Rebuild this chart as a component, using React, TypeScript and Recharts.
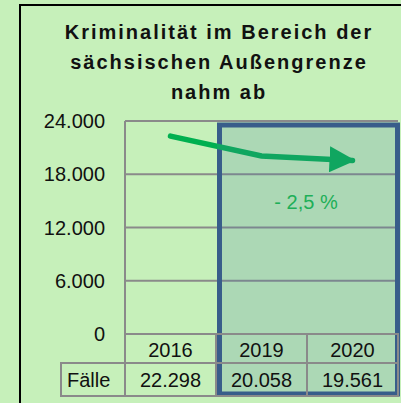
import React from "react";
import {
  ComposedChart,
  Line,
  XAxis,
  YAxis,
  CartesianGrid,
  ReferenceArea,
} from "recharts";

const years = ["2016", "2019", "2020"];
const faelle = [22298, 20058, 19561];
const yTicks = [0, 6000, 12000, 18000, 24000];
const rowLabel = "Fälle";
const changeLabel = "- 2,5 %";
const titleLines = ["Kriminalität im Bereich der", "sächsischen Außengrenze", "nahm ab"];

const data = years.map((year, i) => ({ idx: i, year, faelle: faelle[i] }));

const W = 401;
const H = 403;
const MARGIN = { top: 121, right: 3, bottom: 7, left: 0 };
const Y_W = 125;
const X_H = 62;
const BAND = (W - MARGIN.left - MARGIN.right - Y_W) / years.length;
const ROW1 = 29;
const ROW2 = 33;
const LABEL_W = 64;

const FONT = '"Liberation Sans", Arial, sans-serif';
const GRID = "#8a8a8a";
const GREEN = "#00B050";
const GREEN_TINT = "#10A660";

function fmt(n: number) {
  return String(n).replace(/\B(?=(\d{3})+(?!\d))/g, ".");
}

function TableTick(props: any) {
  const { x, y, payload } = props;
  const i = payload.value as number;
  const left = x - BAND / 2;
  return (
    <g>
      <rect x={left} y={y} width={BAND} height={ROW1} fill="none" stroke={GRID} strokeWidth={2} />
      <rect x={left} y={y + ROW1} width={BAND} height={ROW2} fill="none" stroke={GRID} strokeWidth={2} />
      <text x={x} y={y + ROW1 / 2 + 1} textAnchor="middle" dominantBaseline="central" fontSize={20} fill="#111" fontFamily={FONT}>
        {years[i]}
      </text>
      <text x={x} y={y + ROW1 + ROW2 / 2} textAnchor="middle" dominantBaseline="central" fontSize={20} fill="#111" fontFamily={FONT}>
        {fmt(faelle[i])}
      </text>
      {i === 0 && (
        <g>
          <rect x={left - LABEL_W} y={y + ROW1} width={LABEL_W} height={ROW2} fill="none" stroke={GRID} strokeWidth={2} />
          <text x={left - LABEL_W + 6} y={y + ROW1 + ROW2 / 2} dominantBaseline="central" fontSize={20} fill="#111" fontFamily={FONT}>
            {rowLabel}
          </text>
        </g>
      )}
    </g>
  );
}

function Highlight(props: any) {
  const { x, y, width, height } = props;
  return (
    <g>
      <rect
        x={x + 3.5}
        y={y + 4}
        width={width - 4}
        height={height - 4 + 60}
        fill="rgb(77,126,166)"
        fillOpacity={0.21}
        stroke="#385D8A"
        strokeWidth={5}
      />
      <text x={x + width / 2 - 1} y={y + 81} textAnchor="middle" dominantBaseline="central" fontSize={20} fill="#1EAF58" fontFamily={FONT}>
        {changeLabel}
      </text>
    </g>
  );
}

export default function App() {
  const split = (MARGIN.left + Y_W + BAND + 1) / W;
  return (
    <div
      style={{
        position: "absolute",
        left: 0,
        top: 0,
        width: W,
        height: H,
        overflow: "hidden",
        background: "#C6F0BA",
        fontFamily: FONT,
      }}
    >
      <svg width={0} height={0} style={{ position: "absolute" }}>
        <defs>
          <linearGradient id="lineGrad" gradientUnits="userSpaceOnUse" x1={0} y1={0} x2={W} y2={0}>
            <stop offset={split} stopColor={GREEN} />
            <stop offset={split} stopColor={GREEN_TINT} />
          </linearGradient>
          <marker
            id="arrowHead"
            markerUnits="userSpaceOnUse"
            markerWidth={26}
            markerHeight={26}
            viewBox="0 0 26 26"
            refX={23}
            refY={13}
            orient="auto"
          >
            <path d="M0,0 L26,13 L0,26 Z" fill={GREEN_TINT} />
          </marker>
        </defs>
      </svg>
      <div
        style={{
          position: "absolute",
          left: 19,
          top: 4,
          width: 420,
          height: 420,
          border: "2px solid #000",
        }}
      />
      <div
        style={{
          position: "absolute",
          left: 19,
          top: 17,
          width: 400,
          textAlign: "center",
          fontSize: 20,
          fontWeight: "bold",
          letterSpacing: 2,
          lineHeight: "30px",
          color: "#111",
        }}
      >
        {titleLines.map((t) => (
          <div key={t}>{t}</div>
        ))}
      </div>
      <div style={{ position: "absolute", left: 0, top: 0 }}>
        <ComposedChart width={W} height={H} data={data} margin={MARGIN}>
          <CartesianGrid vertical={false} stroke={GRID} strokeWidth={2} />
          <XAxis
            dataKey="idx"
            type="number"
            domain={[-0.5, 2.5]}
            ticks={data.map((d) => d.idx)}
            height={X_H}
            tickSize={0}
            tickMargin={0}
            tickLine={false}
            axisLine={{ stroke: GRID, strokeWidth: 2 }}
            tick={<TableTick />}
            interval={0}
          />
          <YAxis
            domain={[0, 24000]}
            ticks={yTicks}
            tickFormatter={fmt}
            width={Y_W}
            tickSize={0}
            tickMargin={20}
            tickLine={false}
            axisLine={{ stroke: GRID, strokeWidth: 2 }}
            tick={{ fontSize: 20, fill: "#111", fontFamily: FONT }}
          />
          <Line
            dataKey="faelle"
            type="linear"
            stroke="url(#lineGrad)"
            strokeWidth={5.5}
            strokeLinecap="round"
            dot={false}
            activeDot={false}
            markerEnd="url(#arrowHead)"
            isAnimationActive={false}
          />
          <ReferenceArea
            x1={0.5}
            x2={2.5}
            y1={0}
            y2={24000}
            ifOverflow="visible"
            shape={<Highlight />}
          />
        </ComposedChart>
      </div>
    </div>
  );
}
